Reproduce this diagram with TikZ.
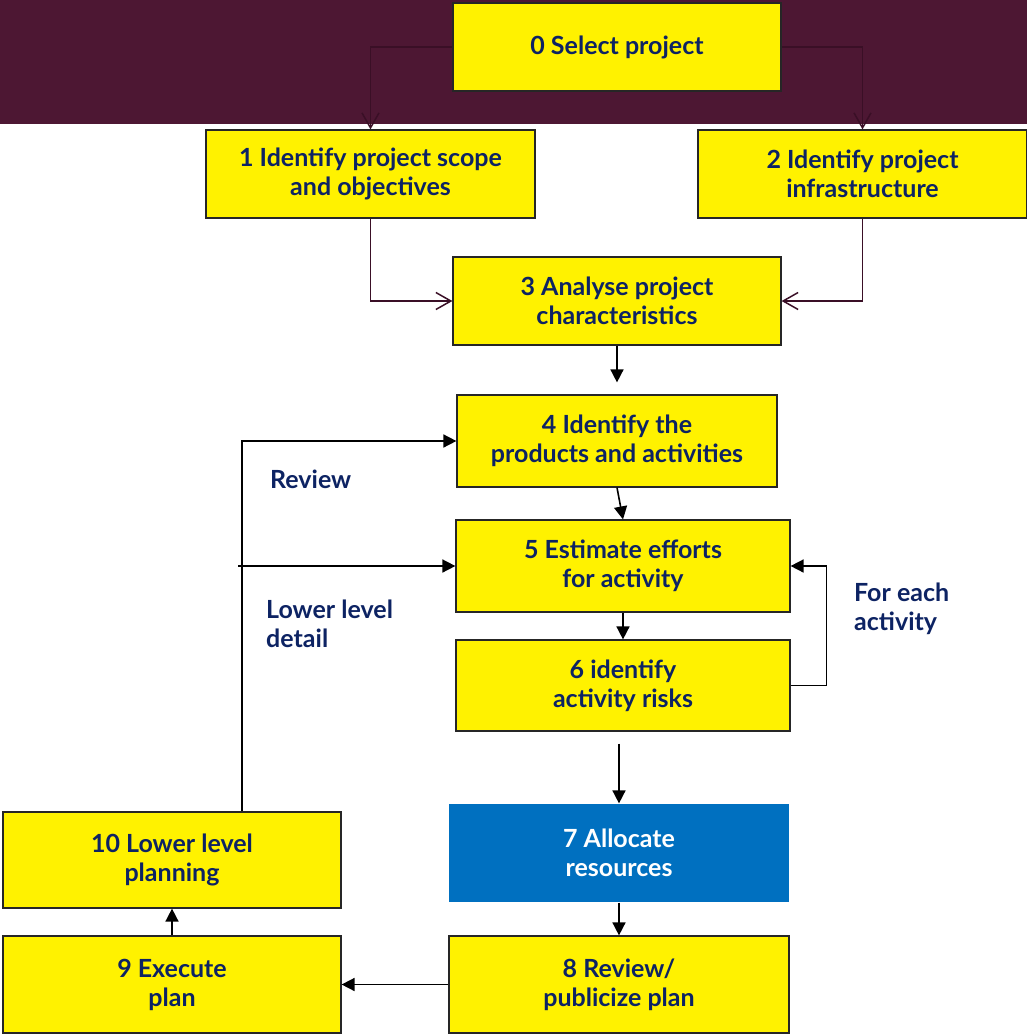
\documentclass[tikz,border=0pt]{standalone}
\usepackage{fontspec}
\setmainfont{Lato}
\usetikzlibrary{arrows.meta}
\definecolor{band}{HTML}{4D1733}
\definecolor{bandline}{HTML}{3A0F26}
\definecolor{navy}{HTML}{0D2363}
\definecolor{boxblue}{HTML}{0070C0}
\tikzset{
  box/.style={draw=black!85, line width=1.2pt, fill=yellow, text=navy,
    align=center, inner sep=0pt, font=\fontsize{25}{29}\selectfont\bfseries},
  note/.style={text=navy, align=left, inner sep=0pt, anchor=base west,
    font=\fontsize{25}{29}\selectfont\bfseries},
  barb/.style={draw=bandline, line width=1.5pt,
    -{Straight Barb[length=15pt,width=17pt,line width=1.5pt]}},
  arr/.style={draw=black, line width=1.6pt, -{Triangle[length=13pt,width=13pt]}}
}
\begin{document}
\begin{tikzpicture}[x=1pt,y=-1pt]
      \useasboundingbox (0,0) rectangle (1027,1034);
      \fill[band] (0,0) rectangle (1027,124);
      % boxes
      \node[box, minimum width=328pt, minimum height=88pt] (0) at (617,47) {0 Select project};
      \node[box, minimum width=329pt, minimum height=88pt] (1) at (370.5,174) {1 Identify project scope\\and objectives};
      \node[box, minimum width=329pt, minimum height=88pt] (2) at (862.5,174) {2 Identify project\\infrastructure};
      \node[box, minimum width=328pt, minimum height=88pt] (3) at (617,301) {3 Analyse project\\characteristics};
      \node[box, minimum width=320pt, minimum height=92pt] (4) at (617,441) {4 Identify the\\products and activities};
      \node[box, minimum width=334pt, minimum height=92pt] (5) at (623,566) {5 Estimate efforts\\for activity};
      \node[box, minimum width=334pt, minimum height=91pt] (6) at (623,685.5) {6 identify\\activity risks};
      \node[box, draw=none, fill=boxblue, text=white, minimum width=340pt, minimum height=98pt] (7) at (619,853) {7 Allocate\\resources};
      \node[box, minimum width=340pt, minimum height=97pt] (8) at (619,984.5) {8 Review/\\publicize plan};
      \node[box, minimum width=338pt, minimum height=97pt] (9) at (172,984.5) {9 Execute\\plan};
      \node[box, minimum width=338pt, minimum height=96pt] (10) at (172,860) {10 Lower level\\planning};
      % labels
      \node[note] (review) at (270,488) {Review};
      \node[note] (lower) at (266,647) {Lower level\\detail};
      \node[note] (each) at (854,630) {For each\\activity};
      \coordinate (lld) at (238,566);
      % connectors
      \draw[barb] (0.west) -| (1.north);
      \draw[barb] (0.east) -| (2.north);
      \draw[barb] (1.south) |- (3.west);
      \draw[barb] (2.south) |- (3.east);
      \begin{scope}[arr]
        \draw[shorten >=12pt] (3) -- (4);
        \draw (4.south) -- (5.north);
        \draw (5) -- (6);
        \draw (6.east) -- ++(36,0) |- (5.east);
        \draw[shorten <=12pt] (6.south -| 7.north) -- (7.north);
        \draw (7) -- (8);
        \draw (8) -- (9);
        \draw (9) -- (10);
        \draw ([xshift=70pt]10.north) |- (4.west);
        \draw (lld) -- (5.west);
      \end{scope}
    \end{tikzpicture}
\end{document}
